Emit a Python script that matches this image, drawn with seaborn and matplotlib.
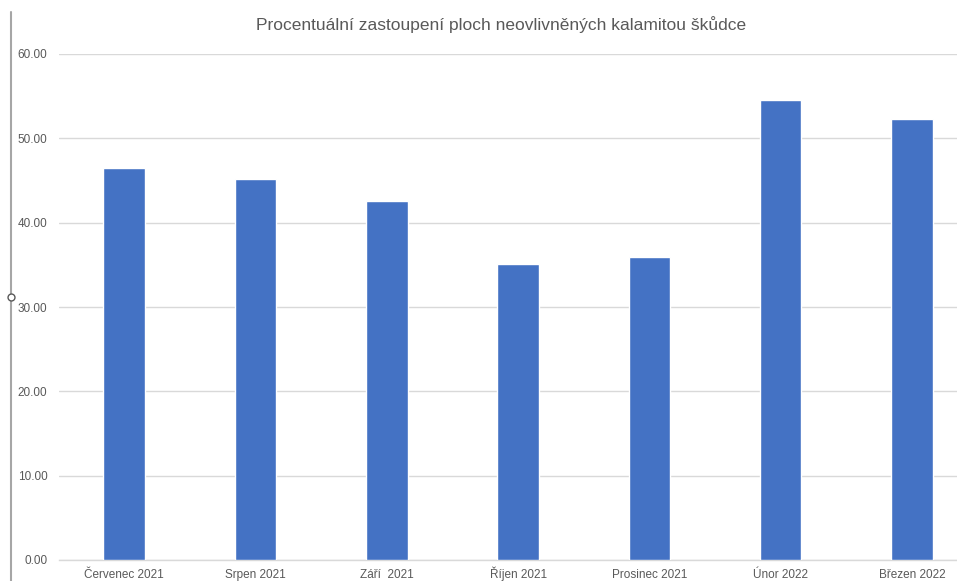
import pandas as pd
import matplotlib
matplotlib.use('Agg')
import matplotlib.pyplot as plt
from matplotlib.lines import Line2D
import seaborn as sns

# Procentualni zastoupeni ploch neovlivnenych kalamitou
mesice = ['Červenec 2021', 'Srpen 2021', 'Září  2021', 'Říjen 2021',
          'Prosinec 2021', 'Únor 2022', 'Březen 2022']
procenta = [46.46, 45.20, 42.55, 35.10, 35.92, 54.57, 52.28]
y_ticks = [0, 10, 20, 30, 40, 50, 60]

df = pd.DataFrame({'mesic': mesice, 'procento': procenta})

sns.set_style('white')
plt.rcParams['font.family'] = ['Liberation Sans', 'DejaVu Sans']

fig = plt.figure(figsize=(9.57, 5.81), dpi=100)
# the plot area runs past the right edge, like in the cropped screenshot
ax = fig.add_axes([58.5 / 957, 21 / 581, 919.3 / 957, 506 / 581])

sns.barplot(data=df, x='mesic', y='procento', color='#4472C4', saturation=1,
            width=0.315, ax=ax, zorder=3)

ax.set_ylim(0, 60)
ax.set_yticks(y_ticks)
ax.set_yticklabels(['{:.2f}'.format(v) for v in y_ticks])
ax.yaxis.grid(True, color='#d9d9d9', linewidth=1, zorder=0)
ax.set_xlabel('')
ax.set_ylabel('')
for side in ['top', 'right', 'left']:
    ax.spines[side].set_visible(False)
ax.spines['bottom'].set_color('#d9d9d9')
ax.spines['bottom'].set_linewidth(1)
ax.tick_params(axis='y', length=0, pad=8, labelsize=8.5, labelcolor='#595959')
ax.tick_params(axis='x', length=0, pad=13, labelsize=8.5, labelcolor='#595959')
# align month labels on the baseline so accented letters don't push them down
for lbl in ax.get_xticklabels():
    lbl.set_verticalalignment('baseline')

fig.text(501 / 957, 1 - 25 / 581,
         'Procentuální zastoupení ploch neovlivněných kalamitou škůdce',
         ha='center', va='center', fontsize=12.5, color='#595959')

# grey bar at the left edge of the screenshot (window border)
fig.add_artist(Line2D([11 / 957, 11 / 957], [0, 1 - 12 / 581],
                      transform=fig.transFigure, color='#a6a6a6', linewidth=1.5))
fig.add_artist(Line2D([11 / 957], [1 - 297 / 581], transform=fig.transFigure,
                      marker='o', markersize=5, markerfacecolor='white',
                      markeredgecolor='#595959', linewidth=0))

fig.savefig('out.png', dpi=100)
